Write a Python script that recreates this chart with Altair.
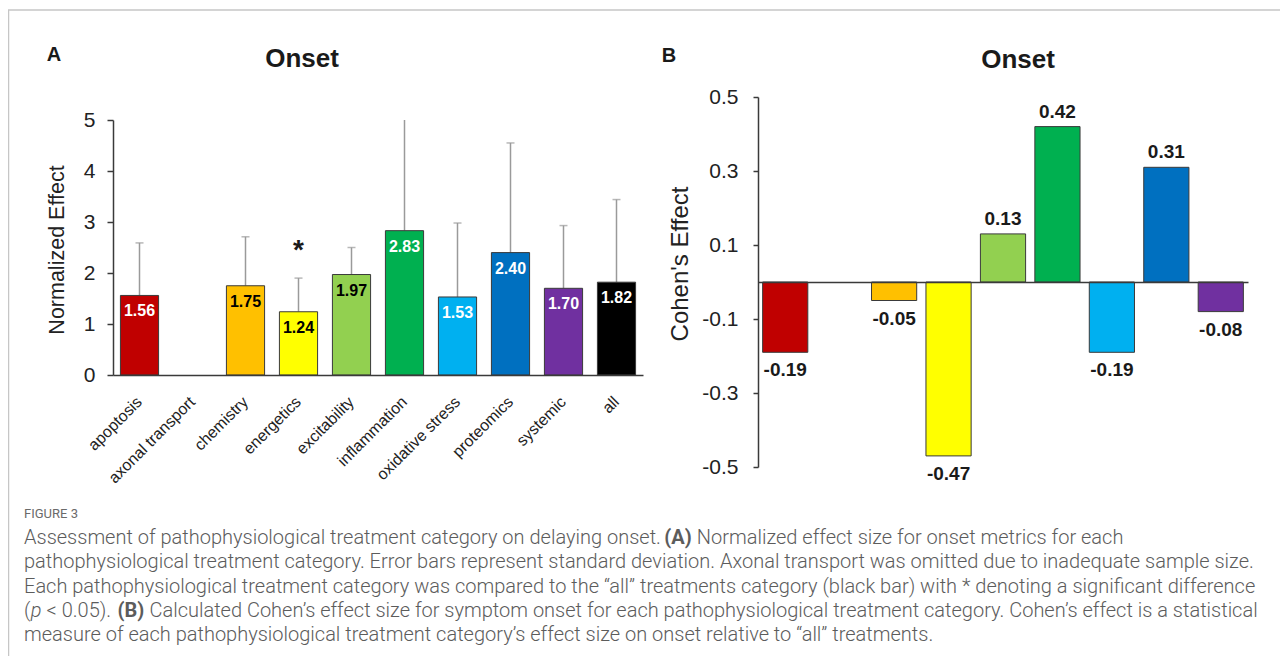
import altair as alt
import pandas as pd

# ---------------- data ----------------
categories = ["apoptosis", "axonal transport", "chemistry", "energetics", "excitability",
              "inflammation", "oxidative stress", "proteomics", "systemic", "all"]
bar_colors = ["#C00000", "#FFFFFF", "#FFC000", "#FFFF00", "#92D050",
              "#00B050", "#00B0F0", "#0070C0", "#7030A0", "#000000"]
normalized_effect = [1.56, None, 1.75, 1.24, 1.97, 2.83, 1.53, 2.40, 1.70, 1.82]
error_upper = [2.59, None, 2.71, 1.90, 2.50, 5.00, 2.98, 4.55, 2.93, 3.44]
value_label_colors = ["#FFFFFF", None, "#000000", "#000000", "#000000",
                      "#FFFFFF", "#FFFFFF", "#FFFFFF", "#FFFFFF", "#FFFFFF"]
significant = ["energetics"]

cohen_categories = categories[:9]
cohen_effect = [-0.19, None, -0.05, -0.47, 0.13, 0.42, -0.19, 0.31, -0.08]

y_ticks_a = [0, 1, 2, 3, 4, 5]
y_ticks_b = [0.5, 0.3, 0.1, -0.1, -0.3, -0.5]

caption_label = "FIGURE 3"
caption_lines = [
    [("Assessment of pathophysiological treatment category on delaying onset. ", "normal"),
     ("(A)", "bold"),
     (" Normalized effect size for onset metrics for each", "normal")],
    [("pathophysiological treatment category. Error bars represent standard deviation. "
      "Axonal transport was omitted due to inadequate sample size.", "normal")],
    [("Each pathophysiological treatment category was compared to the \u201call\u201d treatments "
      "category (black bar) with * denoting a significant difference", "normal")],
    [("(", "normal"), ("p", "italic"), (" < 0.05). ", "normal"), ("(B)", "bold"),
     (" Calculated Cohen\u2019s effect size for symptom onset for each pathophysiological "
      "treatment category. Cohen\u2019s effect is a statistical", "normal")],
    [("measure of each pathophysiological treatment category\u2019s effect size on onset "
      "relative to \u201call\u201d treatments.", "normal")],
]

# ---------------- layout constants ----------------
W, H = 1272, 648
FONT = "Liberation Sans"
CAP_FONT = "Roboto"
AXIS_COLOR = "#3a3a3a"
TEXT_COLOR = "#1a1a1a"

# ---------------- tables ----------------
rows_a = []
for c, v, u, col, lc in zip(categories, normalized_effect, error_upper, bar_colors, value_label_colors):
    if v is None:
        continue
    rows_a.append({"category": c, "value": v, "upper": u, "color": col, "lcolor": lc,
                   "label": f"{v:.2f}", "cap": u < 5})
dfA = pd.DataFrame(rows_a)

rows_b = []
for c, v, col in zip(cohen_categories, cohen_effect, bar_colors):
    if v is None:
        continue
    rows_b.append({"category": c, "value": v, "color": col, "label": f"{v:.2f}"})
dfB = pd.DataFrame(rows_b)

# ---------------- panel A ----------------
scA_x = alt.Scale(domain=categories, range=[105, 635], paddingInner=0.28, paddingOuter=0.14)
scA_y = alt.Scale(domain=[0, 5], range=[367, 112], nice=False)
axA_x = alt.Axis(orient="bottom", offset=-(H - 367), title=None, ticks=False, tickSize=0,
                 labelAngle=-45, labelAlign="right", labelBaseline="middle", labelPadding=24,
                 labelFont=FONT, labelFontSize=16, labelColor="#222222",
                 domainColor=AXIS_COLOR, domainWidth=1.5, labelOverlap=False, grid=False, zindex=1)
axA_y = alt.Axis(orient="left", offset=-105, values=y_ticks_a, title=None, tickSize=6,
                 tickColor=AXIS_COLOR, tickWidth=1.5, labelPadding=12, labelFont=FONT,
                 labelFontSize=21, labelColor="#222222", domainColor=AXIS_COLOR,
                 domainWidth=1.5, grid=False, zindex=1)


def xA():
    return alt.X("category:N", scale=scA_x, axis=axA_x)


def yA(field):
    return alt.Y(field, scale=scA_y, axis=axA_y)


baseA = alt.Chart(dfA)
errA = baseA.mark_rule(color="#9a9a9a", strokeWidth=1.5).encode(
    x=xA(), y=yA("value:Q"), y2="upper:Q")
capsA = baseA.transform_filter("datum.cap").mark_tick(
    color="#9a9a9a", thickness=1.5, size=8).encode(x=xA(), y=yA("upper:Q"))
barsA = baseA.mark_bar(stroke=AXIS_COLOR, strokeWidth=1).encode(
    x=xA(), y=yA("value:Q"), color=alt.Color("color:N", scale=None))
labelsA = baseA.mark_text(font=FONT, fontSize=16, fontWeight="bold", baseline="middle",
                          dy=16).encode(
    x=xA(), y=yA("value:Q"), text="label:N", color=alt.Color("lcolor:N", scale=None))
starA = baseA.transform_filter(
    alt.FieldOneOfPredicate(field="category", oneOf=significant)
).mark_text(text="*", font=FONT, fontSize=28, fontWeight="bold", baseline="alphabetic",
            dy=-19, color=TEXT_COLOR).encode(x=xA(), y=yA("upper:Q"))

layerA = alt.layer(errA, barsA, capsA, labelsA, starA)

# ---------------- panel B ----------------
scB_x = alt.Scale(domain=cohen_categories, range=[750, 1240], paddingInner=0.17, paddingOuter=0.085)
scB_y = alt.Scale(domain=[-0.5, 0.5], range=[459, 89], nice=False)
axB_x = alt.Axis(orient="bottom", offset=-(H - 274), title=None, labels=False, ticks=False,
                 domainColor=AXIS_COLOR, domainWidth=1.5, grid=False, zindex=1)
axB_y = alt.Axis(orient="left", offset=-750, values=y_ticks_b, format=".1f",
                 labelExpr="replace(datum.label, '\u2212', '-')", title=None, tickSize=5,
                 tickColor=AXIS_COLOR, tickWidth=1.5, labelPadding=15, labelFont=FONT,
                 labelFontSize=21, labelColor="#222222", domainColor=AXIS_COLOR,
                 domainWidth=1.5, grid=False, zindex=1)


def xB():
    return alt.X("category:N", scale=scB_x, axis=axB_x)


def yB():
    return alt.Y("value:Q", scale=scB_y, axis=axB_y)


baseB = alt.Chart(dfB)
barsB = baseB.mark_bar(stroke=AXIS_COLOR, strokeWidth=1).encode(
    x=xB(), y=yB(), color=alt.Color("color:N", scale=None))
posB = baseB.transform_filter("datum.value > 0").mark_text(
    font=FONT, fontSize=19, fontWeight="bold", baseline="middle", dy=-15,
    color=TEXT_COLOR).encode(x=xB(), y=yB(), text="label:N")
negB = baseB.transform_filter("datum.value < 0").mark_text(
    font=FONT, fontSize=19, fontWeight="bold", baseline="middle", dy=18,
    color=TEXT_COLOR).encode(x=xB(), y=yB(), text="label:N")

layerB = alt.layer(barsB, posB, negB)

# ---------------- titles / decorations ----------------
dummy = pd.DataFrame({"t": [0]})


def txt(s, x, y, size, weight="normal", font=FONT, color=TEXT_COLOR, angle=0,
        align="center", baseline="alphabetic"):
    return alt.Chart(dummy).mark_text(
        text=s, font=font, fontSize=size, fontWeight=weight, color=color, angle=angle,
        align=align, baseline=baseline).encode(x=alt.value(x), y=alt.value(y))


titles = [
    txt("A", 46, 53, 20, "bold"),
    txt("B", 661, 54, 20, "bold"),
    txt("Onset", 294, 59, 26, "bold"),
    txt("Onset", 1010, 60, 26, "bold"),
    txt("Normalized Effect", 50, 242, 21.5, angle=270, baseline="middle", color="#222222"),
    txt("Cohen's Effect", 673, 256, 24, angle=270, baseline="middle", color="#222222"),
]

frame_top = alt.Chart(dummy).mark_rule(color="#c6c6c6", strokeWidth=1.5).encode(
    x=alt.value(0), x2=alt.value(W), y=alt.value(2))
frame_left = alt.Chart(dummy).mark_rule(color="#c6c6c6", strokeWidth=1.5).encode(
    x=alt.value(0.5), y=alt.value(2), y2=alt.value(H))

# ---------------- caption ----------------
# approximate Roboto advance widths (em) used to place the styled runs side by side
RB_W = {' ': .248, 'a': .544, 'b': .548, 'c': .512, 'd': .55, 'e': .517, 'f': .346, 'g': .548,
        'h': .539, 'i': .237, 'j': .233, 'k': .495, 'l': .237, 'm': .855, 'n': .54, 'o': .557,
        'p': .548, 'q': .552, 'r': .331, 's': .504, 't': .32, 'u': .538, 'v': .473, 'w': .734,
        'x': .484, 'y': .462, 'z': .484, '.': .257, ',': .196, '(': .334, ')': .34, '<': .508,
        '*': .431, '\u201c': .312, '\u201d': .312, '\u2019': .14, 'A': .652, 'B': .624,
        'C': .651, 'E': .569, 'N': .696}
CAP_SIZE = 20
CAP_X0 = 16
CAP_Y0 = 530
CAP_DY = 24.3
CAP_COLOR = "#5c5c5c"
STYLE_FACTOR = {"normal": 1.0, "italic": 1.0, "bold": 1.04}


def text_width(s, style):
    return sum(RB_W.get(ch, .562) for ch in s) * CAP_SIZE * STYLE_FACTOR[style]


seg_rows = []
for i, line in enumerate(caption_lines):
    cursor = CAP_X0
    y = CAP_Y0 + i * CAP_DY
    for s, style in line:
        lead = len(s) - len(s.lstrip(" "))
        start = cursor + text_width(" " * lead, "normal")
        seg_rows.append({"text": s.strip(" "), "x": start, "y": y, "style": style})
        cursor += text_width(s, style)
segs = pd.DataFrame(seg_rows)

caption_layers = []
for style in ["normal", "bold", "italic"]:
    sub = segs[segs["style"] == style]
    caption_layers.append(
        alt.Chart(sub).mark_text(
            font=CAP_FONT, fontSize=CAP_SIZE, align="left", baseline="middle",
            color=CAP_COLOR, fontWeight="bold" if style == "bold" else 300,
            fontStyle="italic" if style == "italic" else "normal"
        ).encode(x=alt.X("x:Q", scale=None, axis=None),
                 y=alt.Y("y:Q", scale=None, axis=None),
                 text="text:N"))

fig_label = txt(caption_label, CAP_X0, 506, 13, font=CAP_FONT, color="#6a6a6a",
                align="left", baseline="middle")

chart = alt.layer(
    frame_top, frame_left, layerA, layerB, *titles, fig_label, *caption_layers
).resolve_scale(
    x="independent", y="independent"
).properties(
    width=W, height=H, padding=0, autosize=alt.AutoSizeParams(type="none")
).configure_view(stroke=None)

chart.save("out.html", embed_options={"renderer": "svg", "actions": False})
